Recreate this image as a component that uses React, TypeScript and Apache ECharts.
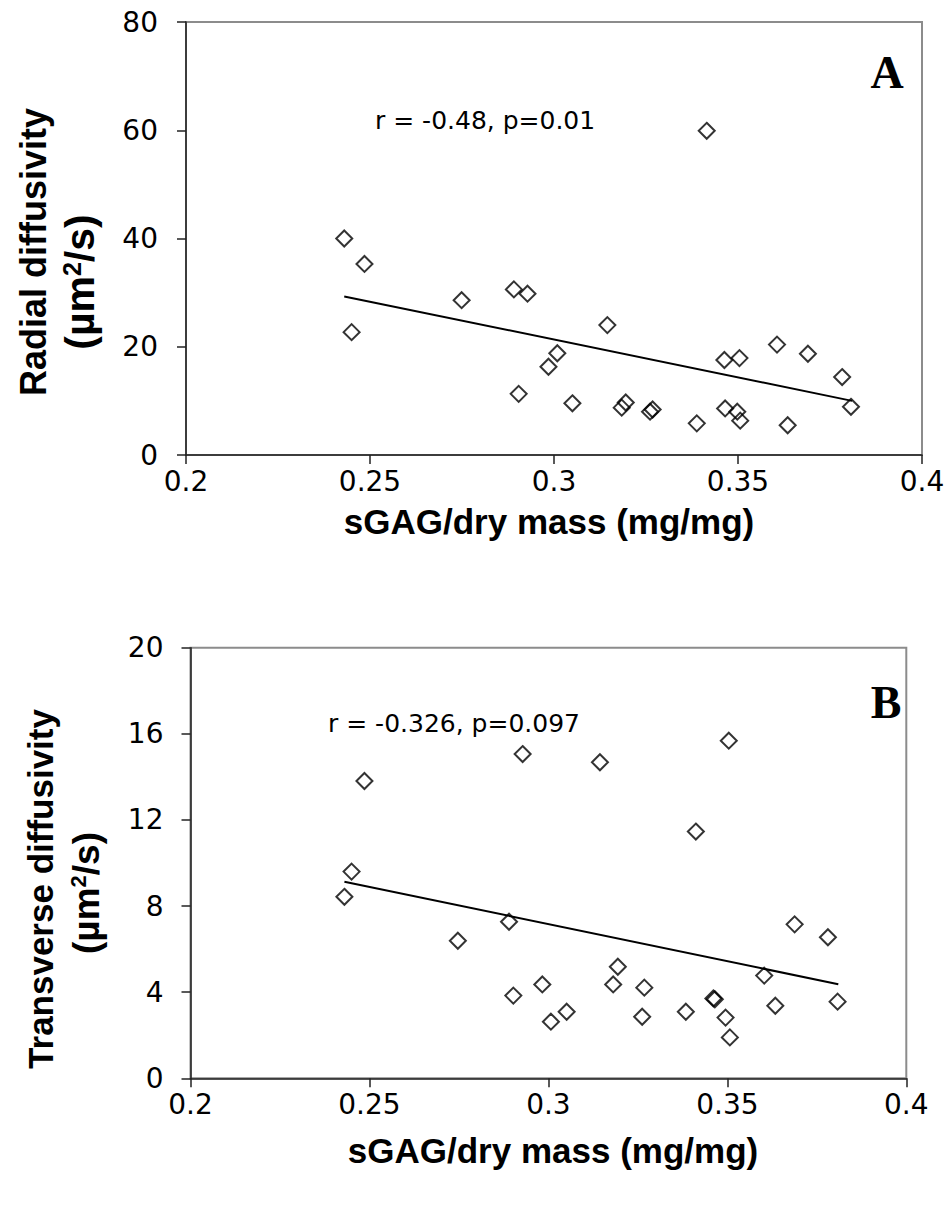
import React, { useEffect, useRef } from "react";
import * as echarts from "echarts";

// Panel A: sGAG/dry mass vs radial diffusivity
const sgagA = [0.243, 0.2485, 0.245, 0.2749, 0.2891, 0.2928, 0.2904, 0.2985, 0.3009, 0.3415, 0.3145, 0.305, 0.3184, 0.3195, 0.3261, 0.3268, 0.3388, 0.3463, 0.3504, 0.3465, 0.3498, 0.3506, 0.3606, 0.369, 0.3635, 0.3783, 0.3807];
const radial = [40, 35.3, 22.7, 28.6, 30.6, 29.8, 11.3, 16.3, 18.8, 59.9, 24.0, 9.55, 8.75, 9.7, 8.0, 8.4, 5.85, 17.55, 17.9, 8.6, 8.0, 6.35, 20.4, 18.7, 5.5, 14.4, 8.9];

// Panel B: sGAG/dry mass vs transverse diffusivity
const sgagB = [0.2486, 0.245, 0.243, 0.2928, 0.2747, 0.289, 0.2902, 0.2983, 0.3007, 0.3051, 0.3144, 0.3504, 0.3412, 0.3194, 0.3181, 0.3268, 0.3262, 0.3384, 0.3461, 0.3465, 0.3495, 0.3507, 0.3603, 0.3634, 0.3688, 0.3781, 0.3808];
const transverse = [13.81, 9.6, 8.43, 15.06, 6.39, 7.27, 3.84, 4.36, 2.63, 3.09, 14.68, 15.68, 11.46, 5.18, 4.36, 4.21, 2.86, 3.09, 3.71, 3.67, 2.82, 1.9, 4.77, 3.37, 7.15, 6.55, 3.56];

// Trend lines (end points)
const trendX = [0.243, 0.381];
const trendA = [29.3, 10.0];
const trendB = [9.13, 4.37];

const xTicks = { min: 0.2, max: 0.4, interval: 0.05 };
const yTicksA = { min: 0, max: 80, interval: 20 };
const yTicksB = { min: 0, max: 20, interval: 4 };

const xTitle = "sGAG/dry mass (mg/mg)";
const yTitleA = "Radial diffusivity";
const yTitleB = "Transverse diffusivity";
const unitText = "{n|(µm}{sup|2}{n|/s)}";
const statA = "r = -0.48, p=0.01";
const statB = "r = -0.326, p=0.097";

const zip = (xs: number[], ys: number[]) => xs.map((x, i) => [x, ys[i]]);

export default function App() {
  const ref = useRef<HTMLDivElement>(null);
  useEffect(() => {
    if (!ref.current) return;
    const chart = echarts.init(ref.current, null, { renderer: "svg" });
    const labelFont = { fontFamily: "DejaVu Sans", fontSize: 28, color: "#000" };
    const axisCommon = {
      axisLine: { show: true, onZero: false, lineStyle: { color: "#222", width: 1.5 } },
      axisTick: { show: true, inside: false, length: 9, lineStyle: { color: "#222", width: 1.5 } },
      splitLine: { show: false },
    };
    const titleStyle = { fontFamily: "Liberation Sans", fontWeight: "bold", fontSize: 35, fill: "#000" };
    const unitRich = (size: number) => ({
      n: { fontFamily: "Liberation Sans", fontWeight: "bold", fontSize: size, color: "#000" },
      sup: { fontFamily: "Liberation Sans", fontWeight: "bold", fontSize: Math.round(size * 0.6), color: "#000", verticalAlign: "top" },
    });
    const scatterStyle = {
      type: "scatter",
      symbol: "diamond",
      symbolSize: 16,
      itemStyle: { color: "rgba(0,0,0,0)", borderColor: "#000", borderWidth: 2 },
      z: 3,
    };
    const lineStyle = {
      type: "line",
      symbol: "none",
      lineStyle: { color: "#000", width: 2 },
      z: 2,
    };
    chart.setOption({
      animation: false,
      backgroundColor: "#fff",
      grid: [
        { left: 186, top: 22, width: 736, height: 433, show: true, borderColor: "#8c8c8c", borderWidth: 2, backgroundColor: "#fff" },
        { left: 190.5, top: 647.7, width: 715.8, height: 430.6, show: true, borderColor: "#8c8c8c", borderWidth: 2, backgroundColor: "#fff" },
      ],
      xAxis: [0, 1].map((g) => ({
        type: "value",
        gridIndex: g,
        ...xTicks,
        ...axisCommon,
        axisLabel: { ...labelFont, margin: 12 },
      })),
      yAxis: [
        { type: "value", gridIndex: 0, ...yTicksA, ...axisCommon, axisLabel: { ...labelFont, margin: 28 } },
        { type: "value", gridIndex: 1, ...yTicksB, ...axisCommon, axisLabel: { ...labelFont, margin: 27 } },
      ],
      series: [
        { ...scatterStyle, xAxisIndex: 0, yAxisIndex: 0, data: zip(sgagA, radial) },
        { ...lineStyle, xAxisIndex: 0, yAxisIndex: 0, data: zip(trendX, trendA) },
        { ...scatterStyle, xAxisIndex: 1, yAxisIndex: 1, data: zip(sgagB, transverse) },
        { ...lineStyle, xAxisIndex: 1, yAxisIndex: 1, data: zip(trendX, trendB) },
      ],
      graphic: [
        { type: "text", x: 549, y: 521, style: { ...titleStyle, text: xTitle, align: "center", verticalAlign: "middle" } },
        { type: "text", x: 553, y: 1150, style: { ...titleStyle, text: xTitle, align: "center", verticalAlign: "middle" } },
        { type: "text", x: 33, y: 252, rotation: Math.PI / 2, style: { ...titleStyle, fontSize: 36, text: yTitleA, align: "center", verticalAlign: "middle" } },
        { type: "text", x: 80, y: 282, rotation: Math.PI / 2, style: { text: unitText, rich: unitRich(41), align: "center", verticalAlign: "middle" } },
        { type: "text", x: 40, y: 889, rotation: Math.PI / 2, style: { ...titleStyle, fontSize: 35, text: yTitleB, align: "center", verticalAlign: "middle" } },
        { type: "text", x: 86, y: 893, rotation: Math.PI / 2, style: { text: unitText, rich: unitRich(37), align: "center", verticalAlign: "middle" } },
        { type: "text", x: 375, y: 120, style: { fontFamily: "DejaVu Sans", fontSize: 25, fill: "#000", text: statA, align: "left", verticalAlign: "middle" } },
        { type: "text", x: 328, y: 723, style: { fontFamily: "DejaVu Sans", fontSize: 25, fill: "#000", text: statB, align: "left", verticalAlign: "middle" } },
        { type: "text", x: 887, y: 72, style: { fontFamily: "Liberation Serif", fontWeight: "bold", fontSize: 46, fill: "#000", text: "A", align: "center", verticalAlign: "middle" } },
        { type: "text", x: 886, y: 702, style: { fontFamily: "Liberation Serif", fontWeight: "bold", fontSize: 46, fill: "#000", text: "B", align: "center", verticalAlign: "middle" } },
      ],
    });
    return () => chart.dispose();
  }, []);
  return <div ref={ref} style={{ position: "absolute", left: 0, top: 0, width: 952, height: 1211 }} />;
}
